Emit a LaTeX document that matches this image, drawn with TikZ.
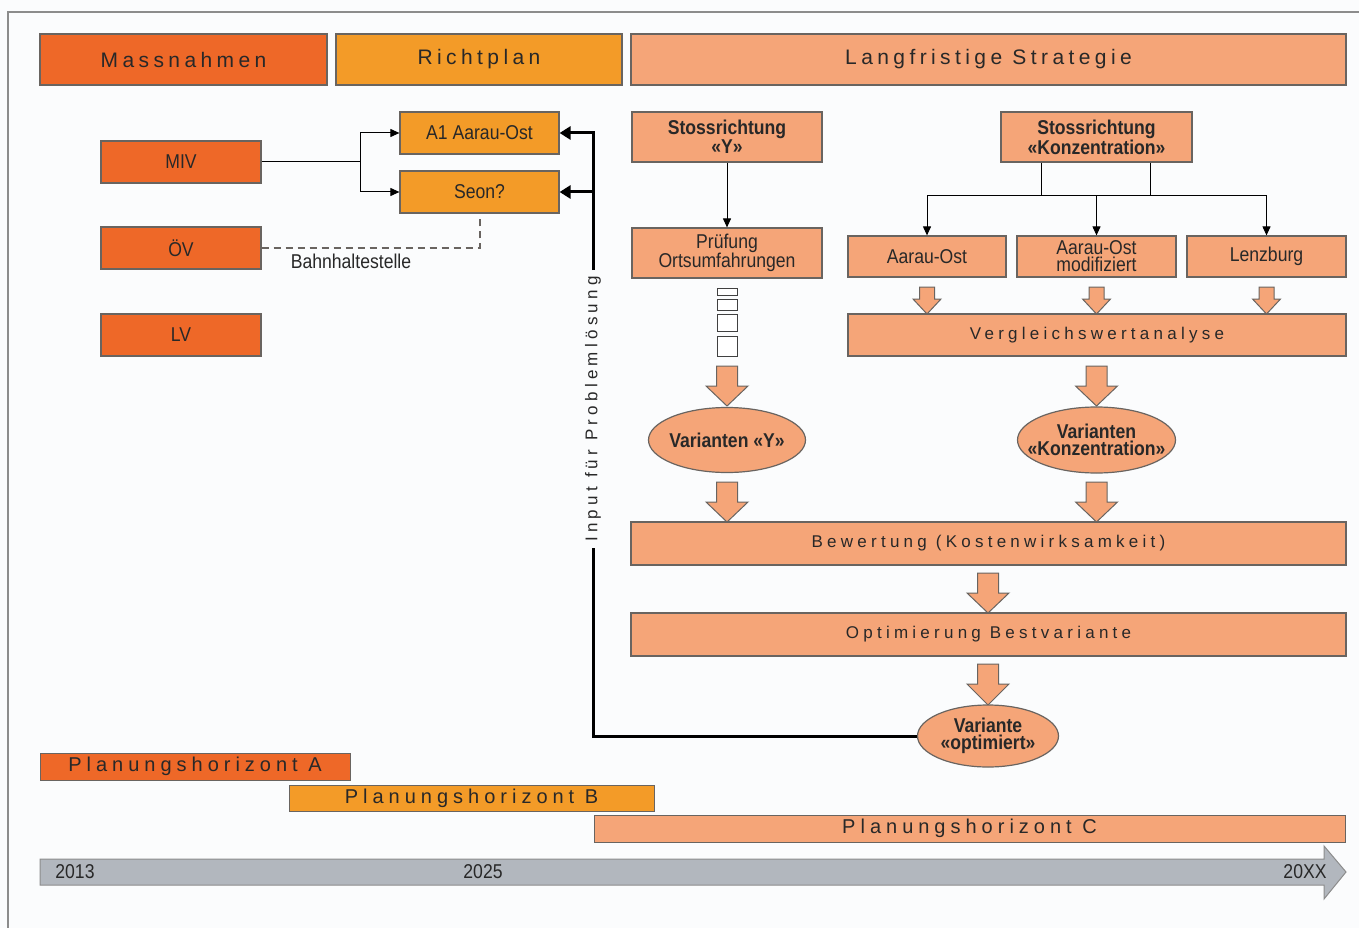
\documentclass[tikz,border=0pt]{standalone}
\usepackage{fontspec}
\setmainfont{Liberation Sans}
\newfontfamily\narrowf[FakeStretch=0.88]{Liberation Sans}
\newfontfamily\spacedf[LetterSpace=25]{Liberation Sans}
\newfontfamily\headf[LetterSpace=21]{Liberation Sans}
\usetikzlibrary{arrows.meta,calc,shapes.geometric}
\definecolor{dorange}{RGB}{238,104,40}
\definecolor{morange}{RGB}{243,155,40}
\definecolor{salmon}{RGB}{245,165,120}
\definecolor{edge}{RGB}{105,100,96}
\definecolor{txt}{RGB}{40,40,40}
\definecolor{tl}{RGB}{178,183,190}
\definecolor{bg}{RGB}{251,252,253}
\definecolor{frame}{RGB}{140,140,140}
\newcommand{\fatarrow}[6]{% x, top, tip, shaft half, head half, head start
  \draw[draw=edge, line width=1pt, fill=salmon, line join=miter]
    (#1-#4,#2) -- (#1+#4,#2) -- (#1+#4,#6) -- (#1+#5,#6) -- (#1,#3)
    -- (#1-#5,#6) -- (#1-#4,#6) -- cycle;}
\begin{document}
\begin{tikzpicture}[x=1pt,y=-1pt,
  box/.style={draw=edge, line width=1.2pt, inner sep=0pt, text=txt, align=center},
  bdo/.style={box, fill=dorange},
  bor/.style={box, fill=morange},
  bsa/.style={box, fill=salmon},
  small/.style={font=\narrowf\fontsize{20}{17}\selectfont},
  smallb/.style={font=\narrowf\bfseries\fontsize{20}{17}\selectfont},
  head/.style={font=\headf\fontsize{21}{24}\selectfont},
  spaced/.style={font=\spacedf\fontsize{17}{20}\selectfont},
  plan/.style={font=\spacedf\fontsize{20}{22}\selectfont},
  ell/.style={ellipse, draw=edge, line width=1.2pt, fill=salmon, inner sep=0pt},
  elltext/.style={smallb, text=txt, align=center, inner sep=0pt},
  conn/.style={draw=black, line width=1pt, -{Triangle[length=9pt,width=8pt]}},
  fb/.style={draw=black, line width=3pt},
  fbarrow/.style={draw=black, line width=3pt, -{Triangle[length=11pt,width=13pt]}},
]
\useasboundingbox (0,0) rectangle (1359,928);
\fill[bg] (0,0) rectangle (1359,928);
\draw[frame, line width=1.5pt] (8,928) -- (8,12) -- (1359,12);

% headers
\node[bdo, head, minimum width=287, minimum height=51] (mass) at (183.5,59.5) {Massnahmen};
\node[bor, head, minimum width=286, minimum height=51] (richt) at (479,59.5) {Richtplan};
\node[bsa, head, minimum width=715, minimum height=51] (lang) at (988.5,59.5) {Langfristige Strategie};

% left column
\node[bdo, small, minimum width=160, minimum height=42] (miv) at (181,162) {MIV};
\node[bdo, small, minimum width=160, minimum height=42] (oev) at (181,248) {ÖV};
\node[bdo, small, minimum width=160, minimum height=42] (lv) at (181,335) {LV};

\node[bor, small, minimum width=159, minimum height=42] (a1) at (479.5,133) {A1 Aarau-Ost};
\node[bor, small, minimum width=159, minimum height=42] (seon) at (479.5,192) {Seon?};

\coordinate (j1) at (360,162);
\draw[line width=1pt] (miv.east) -- (j1);
\draw[conn] (j1) |- (a1.west);
\draw[conn] (j1) |- (seon.west);

\coordinate (dj) at (480,218);
\draw[draw=edge, line width=1.2pt, dash pattern=on 7pt off 5pt] (oev.east) -| (dj);
\node[small, text=txt] (bhs) at (351,261) {Bahnhaltestelle};

% Y branch
\node[bsa, smallb, minimum width=190, minimum height=50] (sy) at (727,137) {Stossrichtung\\«Y»};
\node[bsa, small, minimum width=190, minimum height=50] (pr) at (727,253) {Prüfung\\Ortsumfahrungen};
\draw[conn] (sy.south) -- (pr.north);

\foreach \ya/\yb in {288/295, 299/310, 314/331, 336/356}
  \draw[draw=black!75, line width=1pt, fill=white] (717.5,\ya) rectangle (737.5,\yb);

\fatarrow{727}{366}{406}{10.5}{21}{386}
\node[ell, minimum width=157, minimum height=65] (vy) at (727,440) {};
\node[elltext] (vyt) at (vy.center) {Varianten «Y»};
\fatarrow{727}{482}{522}{10.5}{21}{502}

% Konzentration branch
\node[bsa, smallb, minimum width=191, minimum height=50] (sk) at (1096.5,137) {Stossrichtung\\«Konzentration»};
\node[bsa, small, minimum width=158, minimum height=41] (ao) at (927,256.5) {Aarau-Ost};
\node[bsa, small, minimum width=159, minimum height=41] (aom) at (1096.5,256.5) {Aarau-Ost\\modifiziert};
\node[bsa, small, minimum width=159, minimum height=41] (lz) at (1266.5,256.5) {Lenzburg};
\coordinate (kl) at (1041,196);
\coordinate (kr) at (1150,196);
\draw[line width=1pt] (sk.south -| kl) -- (kl);
\draw[line width=1pt] (sk.south -| kr) -- (kr);
\draw[line width=1pt] (ao.north |- kl) -- (lz.north |- kl);
\draw[conn] (ao.north |- kl) -- (ao.north);
\draw[conn] (aom.north |- kl) -- (aom.north);
\draw[conn] (lz.north |- kl) -- (lz.north);

\fatarrow{927}{287}{314}{7.5}{14}{299}
\fatarrow{1096.5}{287}{314}{7.5}{14}{299}
\fatarrow{1266.5}{287}{314}{7.5}{14}{299}

\node[bsa, spaced, minimum width=498, minimum height=42] (vwa) at (1097,335) {Vergleichswertanalyse};
\fatarrow{1096.5}{366}{406}{10.5}{21}{386}
\node[ell, minimum width=158, minimum height=66] (vk) at (1096.5,440) {};
\node[elltext] (vkt) at (vk.center) {Varianten\\«Konzentration»};
\fatarrow{1096.5}{482}{522}{10.5}{21}{502}

\node[bsa, spaced, minimum width=715, minimum height=43] (bew) at (988.5,543.5) {Bewertung (Kostenwirksamkeit)};
\fatarrow{988}{573}{613}{10.5}{21}{593}
\node[bsa, spaced, minimum width=715, minimum height=43] (opt) at (988.5,634.5) {Optimierung Bestvariante};
\fatarrow{988}{664}{705}{10.5}{21}{684}
\node[ell, minimum width=141, minimum height=62] (vopt) at (988,736) {};
\node[elltext] (vot) at (vopt.center) {Variante\\«optimiert»};

% feedback
\node[spaced, text=txt, rotate=90, inner sep=6pt] (inp) at (593,409) {Input für Problemlösung};
\coordinate (fbtop) at (593,133);
\draw[fb] (vopt.west) -| (inp.west);
\draw[fb] (inp.east) -- ([yshift=-1.5pt]fbtop);
\draw[fbarrow] ([xshift=1.5pt]fbtop) -- (a1.east);
\draw[fbarrow] (inp.east |- seon.east) -- (seon.east);

% planning horizons
\node[bdo, plan, line width=1pt, minimum width=310, minimum height=27] (pa) at (195,766.5) {Planungshorizont A};
\node[bor, plan, line width=1pt, minimum width=365, minimum height=26] (pb) at (471.5,798) {Planungshorizont B};
\node[bsa, plan, line width=1pt, minimum width=751, minimum height=27] (pc) at (969.5,828.5) {Planungshorizont C};

% timeline
\draw[draw=black!45, line width=1pt, fill=tl, line join=miter]
  (40,859) -- (1324,859) -- (1324,846) -- (1346,872) -- (1324,899) -- (1324,885) -- (40,885) -- cycle;
\node[small, text=txt] (y1) at (75,872) {2013};
\node[small, text=txt] (y2) at (483,872) {2025};
\node[small, text=txt] (y3) at (1305,872) {20XX};
\end{tikzpicture}
\end{document}
